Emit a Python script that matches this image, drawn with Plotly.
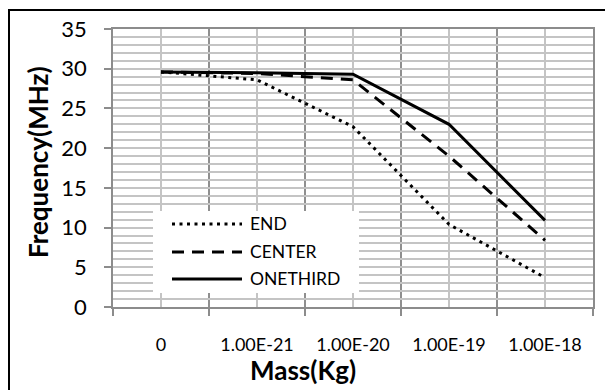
import plotly.graph_objects as go

# ---- data ----
categories = ["0", "1.00E-21", "1.00E-20", "1.00E-19", "1.00E-18"]
end_vals = [29.6, 28.6, 22.7, 10.4, 3.7]
center_vals = [29.6, 29.4, 28.6, 19.0, 8.4]
onethird_vals = [29.6, 29.5, 29.3, 23.0, 10.9]
series_names = ["END", "CENTER", "ONETHIRD"]
y_ticks = [0, 5, 10, 15, 20, 25, 30, 35]

W, H = 608, 390
L, R, T, B = 113, 15, 29, 83
PW, PH = W - L - R, H - T - B


def xp(px):
    return (px - L) / PW


def yp(py):
    return (H - B - py) / PH


FONT = "Lato"
xs = list(range(len(categories)))
dashes = ["3px,4.5px", "12px,8px", "solid"]
widths = [3, 3, 3]

fig = go.Figure()
for name, vals, dash, w in zip(series_names, [end_vals, center_vals, onethird_vals], dashes, widths):
    fig.add_trace(go.Scatter(x=xs, y=vals, mode="lines", name=name,
                             line=dict(color="black", width=w, dash=dash),
                             showlegend=False))

fig.update_layout(
    template="none",
    width=W, height=H,
    margin=dict(l=L, r=R, t=T, b=B, pad=0, autoexpand=False),
    paper_bgcolor="white", plot_bgcolor="white",
    font=dict(family=FONT, color="black"),
    xaxis=dict(
        automargin=False,
        range=[-0.5, len(categories) - 0.5],
        tickmode="array", tickvals=xs, ticktext=categories,
        ticks="", showgrid=True, gridcolor="#c4c4c4", gridwidth=1.5,
        tickfont=dict(size=18, family=FONT),
        ticklabelstandoff=21,
        showline=True, linecolor="#8c8c8c", linewidth=1.5, mirror=True,
        zeroline=False,
        minor=dict(tickmode="array", tickvals=[i - 0.5 for i in range(len(categories) + 1)],
                   ticks="outside", ticklen=7, tickcolor="#8c8c8c", tickwidth=1.5,
                   showgrid=True, gridcolor="#8f8f8f", gridwidth=1.5),
    ),
    yaxis=dict(
        automargin=False,
        range=[0, 35], tickmode="array", tickvals=y_ticks,
        ticks="outside", ticklen=7, tickcolor="#8c8c8c", tickwidth=1.5,
        showgrid=True, gridcolor="#c4c4c4", gridwidth=1.5,
        tickfont=dict(size=22, family=FONT),
        ticklabelstandoff=13,
        showline=True, linecolor="#8c8c8c", linewidth=1.5, mirror=True,
        zeroline=False,
        minor=dict(dtick=1, showgrid=True, gridcolor="#c4c4c4", gridwidth=1.5, ticks=""),
    ),
)

shapes = []
# chart area border (top and left edges visible in the frame)
shapes.append(dict(type="line", xref="paper", yref="paper",
                   x0=xp(8), x1=xp(605), y0=yp(10), y1=yp(10),
                   line=dict(color="black", width=2), layer="above"))
shapes.append(dict(type="line", xref="paper", yref="paper",
                   x0=xp(9), x1=xp(9), y0=yp(9), y1=yp(395),
                   line=dict(color="black", width=2), layer="above"))
# legend box
shapes.append(dict(type="rect", xref="paper", yref="paper",
                   x0=xp(153), x1=xp(359), y0=yp(293), y1=yp(211),
                   line=dict(width=0), fillcolor="white", layer="above"))
leg_y = [224, 252, 279]
annotations = []
for name, dash, w, ly in zip(series_names, dashes, widths, leg_y):
    shapes.append(dict(type="line", xref="paper", yref="paper",
                       x0=xp(172), x1=xp(242), y0=yp(ly), y1=yp(ly),
                       line=dict(color="black", width=w, dash=dash), layer="above"))
    annotations.append(dict(xref="paper", yref="paper", x=xp(248), y=yp(ly - 1),
                            text=name, showarrow=False, xanchor="left", yanchor="middle",
                            font=dict(size=17.5, family=FONT, color="black")))

annotations.append(dict(xref="paper", yref="paper", x=xp(303), y=yp(370),
                        text="Mass(Kg)", showarrow=False, xanchor="center", yanchor="middle",
                        font=dict(size=26, family=FONT, color="black", weight="bold")))
annotations.append(dict(xref="paper", yref="paper", x=xp(38), y=yp(162),
                        text="Frequency(MHz)", showarrow=False, xanchor="center", yanchor="middle",
                        textangle=-90,
                        font=dict(size=26, family=FONT, color="black", weight="bold")))

fig.update_layout(shapes=shapes, annotations=annotations)
fig.write_html("out.html", config={"displayModeBar": False},
               post_script="document.body.style.margin='0';document.body.style.overflow='hidden';")
